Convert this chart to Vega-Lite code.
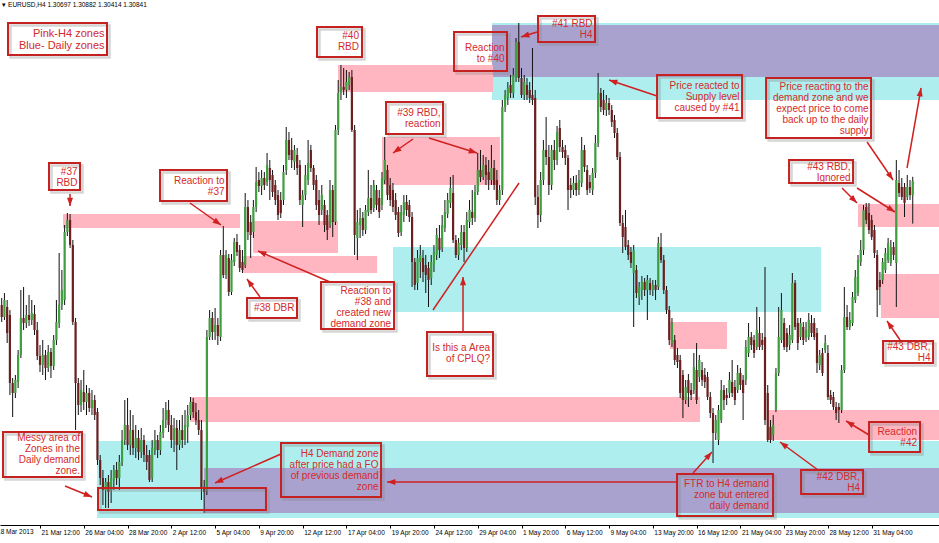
{
"$schema":"https://vega.github.io/schema/vega-lite/v6.json",
"width":939,"height":525,"autosize":"none",
"padding":{"left":0,"top":0,"right":0,"bottom":18},
"background":"white",
"config":{"view":{"stroke":null},"scale":{"continuousPadding":0}},
"resolve":{"axis":{"x":"independent","y":"independent"}},
"datasets":{
"zones":[
{"x1":34.83,"x2":342.6,"y1":1.2824,"y2":1.2747,"tf":"Daily"},
{"x1":73.95,"x2":342.6,"y1":1.2797,"y2":1.2752,"tf":"Both"},
{"x1":179.22,"x2":342.6,"y1":1.3242,"y2":1.3165,"tf":"Daily"},
{"x1":179.22,"x2":342.6,"y1":1.3240,"y2":1.3188,"tf":"Both"},
{"x1":143.03,"x2":299.5,"y1":1.3018,"y2":1.2953,"tf":"Daily"},
{"x1":22.41,"x2":87.11,"y1":1.3051,"y2":1.3037,"tf":"H4"},
{"x1":91.86,"x2":122.93,"y1":1.3044,"y2":1.3012,"tf":"H4"},
{"x1":88.2,"x2":137.2,"y1":1.3009,"y2":1.2992,"tf":"H4"},
{"x1":122.93,"x2":179.59,"y1":1.3200,"y2":1.3173,"tf":"H4"},
{"x1":139.0,"x2":182.1,"y1":1.3128,"y2":1.3080,"tf":"H4"},
{"x1":244.3,"x2":265.1,"y1":1.2943,"y2":1.2916,"tf":"H4"},
{"x1":68.83,"x2":255.25,"y1":1.2868,"y2":1.2843,"tf":"H4"},
{"x1":280.11,"x2":342.6,"y1":1.2855,"y2":1.2825,"tf":"H4"},
{"x1":313.0,"x2":342.6,"y1":1.3061,"y2":1.3038,"tf":"H4"},
{"x1":321.4,"x2":342.6,"y1":1.2991,"y2":1.2947,"tf":"H4"}
],
"candles":[
{"k":0,"o":1.2960,"h":1.2967,"l":1.2943,"c":1.2948},
{"k":1,"o":1.2948,"h":1.2972,"l":1.2945,"c":1.2965},
{"k":2,"o":1.2958,"h":1.2965,"l":1.2922,"c":1.2932},
{"k":3,"o":1.2950,"h":1.2955,"l":1.2870,"c":1.2882},
{"k":4,"o":1.2882,"h":1.2887,"l":1.2848,"c":1.2872},
{"k":5,"o":1.2872,"h":1.2890,"l":1.2867,"c":1.2885},
{"k":6,"o":1.2883,"h":1.2915,"l":1.2877,"c":1.2910},
{"k":7,"o":1.2910,"h":1.2975,"l":1.2907,"c":1.2947},
{"k":8,"o":1.2947,"h":1.2978,"l":1.2935,"c":1.2942},
{"k":9,"o":1.2942,"h":1.2960,"l":1.2937,"c":1.2950},
{"k":10,"o":1.2950,"h":1.2970,"l":1.2939,"c":1.2945},
{"k":11,"o":1.2945,"h":1.2965,"l":1.2940,"c":1.2952},
{"k":12,"o":1.2951,"h":1.2960,"l":1.2930,"c":1.2935},
{"k":13,"o":1.2935,"h":1.2943,"l":1.2905,"c":1.2909},
{"k":14,"o":1.2909,"h":1.2920,"l":1.2893,"c":1.2900},
{"k":15,"o":1.2900,"h":1.2925,"l":1.2890,"c":1.2910},
{"k":16,"o":1.2910,"h":1.2915,"l":1.2885,"c":1.2897},
{"k":17,"o":1.2897,"h":1.2920,"l":1.2893,"c":1.2913},
{"k":18,"o":1.2913,"h":1.2917,"l":1.2887,"c":1.2899},
{"k":19,"o":1.2899,"h":1.2930,"l":1.2895,"c":1.2925},
{"k":20,"o":1.2925,"h":1.2965,"l":1.2920,"c":1.2943},
{"k":21,"o":1.2942,"h":1.3012,"l":1.2937,"c":1.2960},
{"k":22,"o":1.2960,"h":1.2995,"l":1.2955,"c":1.2975},
{"k":23,"o":1.2965,"h":1.3040,"l":1.2960,"c":1.3033},
{"k":24,"o":1.3033,"h":1.3052,"l":1.3029,"c":1.3045},
{"k":25,"o":1.3045,"h":1.3051,"l":1.3017,"c":1.3020},
{"k":26,"o":1.3020,"h":1.3025,"l":1.2940,"c":1.2943},
{"k":27,"o":1.2943,"h":1.2947,"l":1.2835,"c":1.2882},
{"k":28,"o":1.2882,"h":1.2887,"l":1.2850,"c":1.2860},
{"k":29,"o":1.2860,"h":1.2885,"l":1.2853,"c":1.2875},
{"k":30,"o":1.2873,"h":1.2895,"l":1.2855,"c":1.2863},
{"k":31,"o":1.2863,"h":1.2880,"l":1.2850,"c":1.2872},
{"k":32,"o":1.2872,"h":1.2877,"l":1.2853,"c":1.2857},
{"k":33,"o":1.2857,"h":1.2875,"l":1.2850,"c":1.2865},
{"k":34,"o":1.2865,"h":1.2870,"l":1.2845,"c":1.2850},
{"k":35,"o":1.2853,"h":1.2857,"l":1.2800,"c":1.2805},
{"k":36,"o":1.2805,"h":1.2810,"l":1.2780,"c":1.2787},
{"k":37,"o":1.2787,"h":1.2795,"l":1.2760,"c":1.2775},
{"k":38,"o":1.2775,"h":1.2787,"l":1.2757,"c":1.2783},
{"k":39,"o":1.2783,"h":1.2790,"l":1.2757,"c":1.2773},
{"k":40,"o":1.2775,"h":1.2795,"l":1.2762,"c":1.2787},
{"k":41,"o":1.2785,"h":1.2800,"l":1.2775,"c":1.2795},
{"k":42,"o":1.2795,"h":1.2803,"l":1.2780,"c":1.2787},
{"k":43,"o":1.2787,"h":1.2810,"l":1.2775,"c":1.2803},
{"k":44,"o":1.2803,"h":1.2835,"l":1.2799,"c":1.2825},
{"k":45,"o":1.2825,"h":1.2865,"l":1.2820,"c":1.2840},
{"k":46,"o":1.2840,"h":1.2867,"l":1.2815,"c":1.2820},
{"k":47,"o":1.2820,"h":1.2855,"l":1.2810,"c":1.2835},
{"k":48,"o":1.2835,"h":1.2850,"l":1.2810,"c":1.2817},
{"k":49,"o":1.2817,"h":1.2840,"l":1.2807,"c":1.2827},
{"k":50,"o":1.2827,"h":1.2835,"l":1.2805,"c":1.2813},
{"k":51,"o":1.2813,"h":1.2837,"l":1.2807,"c":1.2825},
{"k":52,"o":1.2825,"h":1.2830,"l":1.2803,"c":1.2810},
{"k":53,"o":1.2810,"h":1.2820,"l":1.2795,"c":1.2803},
{"k":54,"o":1.2810,"h":1.2815,"l":1.2783,"c":1.2785},
{"k":55,"o":1.2787,"h":1.2825,"l":1.2783,"c":1.2817},
{"k":56,"o":1.2815,"h":1.2835,"l":1.2810,"c":1.2825},
{"k":57,"o":1.2825,"h":1.2830,"l":1.2807,"c":1.2815},
{"k":58,"o":1.2815,"h":1.2840,"l":1.2810,"c":1.2833},
{"k":59,"o":1.2832,"h":1.2857,"l":1.2827,"c":1.2845},
{"k":60,"o":1.2845,"h":1.2863,"l":1.2837,"c":1.2855},
{"k":61,"o":1.2855,"h":1.2865,"l":1.2833,"c":1.2840},
{"k":62,"o":1.2840,"h":1.2850,"l":1.2817,"c":1.2825},
{"k":63,"o":1.2825,"h":1.2847,"l":1.2813,"c":1.2837},
{"k":64,"o":1.2837,"h":1.2845,"l":1.2795,"c":1.2820},
{"k":65,"o":1.2820,"h":1.2845,"l":1.2815,"c":1.2835},
{"k":66,"o":1.2835,"h":1.2850,"l":1.2817,"c":1.2825},
{"k":67,"o":1.2825,"h":1.2855,"l":1.2820,"c":1.2840},
{"k":68,"o":1.2838,"h":1.2860,"l":1.2822,"c":1.2850},
{"k":69,"o":1.2850,"h":1.2868,"l":1.2845,"c":1.2863},
{"k":70,"o":1.2863,"h":1.2867,"l":1.2847,"c":1.2853},
{"k":71,"o":1.2853,"h":1.2862,"l":1.2840,"c":1.2845},
{"k":72,"o":1.2845,"h":1.2855,"l":1.2830,"c":1.2835},
{"k":73,"o":1.2835,"h":1.2845,"l":1.2765,"c":1.2777},
{"k":74,"o":1.2777,"h":1.2785,"l":1.2752,"c":1.2773},
{"k":75,"o":1.2775,"h":1.2935,"l":1.2770,"c":1.2928},
{"k":76,"o":1.2928,"h":1.2955,"l":1.2925,"c":1.2947},
{"k":77,"o":1.2947,"h":1.2953,"l":1.2925,"c":1.2933},
{"k":78,"o":1.2933,"h":1.2957,"l":1.2925,"c":1.2940},
{"k":79,"o":1.2940,"h":1.2947,"l":1.2920,"c":1.2929},
{"k":80,"o":1.2928,"h":1.3015,"l":1.2924,"c":1.3010},
{"k":81,"o":1.3010,"h":1.3039,"l":1.2987,"c":1.2990},
{"k":82,"o":1.2990,"h":1.3015,"l":1.2986,"c":1.3010},
{"k":83,"o":1.3007,"h":1.3011,"l":1.2969,"c":1.2973},
{"k":84,"o":1.2973,"h":1.3011,"l":1.2970,"c":1.3005},
{"k":85,"o":1.3003,"h":1.3027,"l":1.2999,"c":1.3023},
{"k":86,"o":1.3023,"h":1.3031,"l":1.3009,"c":1.3013},
{"k":87,"o":1.3015,"h":1.3020,"l":1.2993,"c":1.2997},
{"k":88,"o":1.3003,"h":1.3015,"l":1.2992,"c":1.2995},
{"k":89,"o":1.3000,"h":1.3072,"l":1.2997,"c":1.3058},
{"k":90,"o":1.3058,"h":1.3065,"l":1.3025,"c":1.3033},
{"k":91,"o":1.3043,"h":1.3050,"l":1.3007,"c":1.3030},
{"k":92,"o":1.3033,"h":1.3065,"l":1.3027,"c":1.3058},
{"k":93,"o":1.3058,"h":1.3098,"l":1.3053,"c":1.3083},
{"k":94,"o":1.3085,"h":1.3093,"l":1.3073,"c":1.3079},
{"k":95,"o":1.3079,"h":1.3095,"l":1.3070,"c":1.3087},
{"k":96,"o":1.3087,"h":1.3093,"l":1.3075,"c":1.3080},
{"k":97,"o":1.3083,"h":1.3112,"l":1.3079,"c":1.3100},
{"k":98,"o":1.3097,"h":1.3105,"l":1.3065,"c":1.3085},
{"k":99,"o":1.3090,"h":1.3095,"l":1.3068,"c":1.3073},
{"k":100,"o":1.3080,"h":1.3085,"l":1.3060,"c":1.3065},
{"k":101,"o":1.3070,"h":1.3075,"l":1.3045,"c":1.3050},
{"k":102,"o":1.3065,"h":1.3073,"l":1.3047,"c":1.3052},
{"k":103,"o":1.3065,"h":1.3100,"l":1.3060,"c":1.3093},
{"k":104,"o":1.3095,"h":1.3138,"l":1.3090,"c":1.3125},
{"k":105,"o":1.3125,"h":1.3133,"l":1.3105,"c":1.3110},
{"k":106,"o":1.3115,"h":1.3127,"l":1.3097,"c":1.3105},
{"k":107,"o":1.3103,"h":1.3120,"l":1.3095,"c":1.3115},
{"k":108,"o":1.3110,"h":1.3117,"l":1.3090,"c":1.3097},
{"k":109,"o":1.3100,"h":1.3105,"l":1.3060,"c":1.3065},
{"k":110,"o":1.3060,"h":1.3075,"l":1.3038,"c":1.3070},
{"k":111,"o":1.3070,"h":1.3100,"l":1.3065,"c":1.3090},
{"k":112,"o":1.3085,"h":1.3125,"l":1.3080,"c":1.3102},
{"k":113,"o":1.3115,"h":1.3120,"l":1.3093,"c":1.3097},
{"k":114,"o":1.3097,"h":1.3100,"l":1.3075,"c":1.3080},
{"k":115,"o":1.3085,"h":1.3090,"l":1.3055,"c":1.3060},
{"k":116,"o":1.3065,"h":1.3075,"l":1.3040,"c":1.3050},
{"k":117,"o":1.3055,"h":1.3080,"l":1.3050,"c":1.3070},
{"k":118,"o":1.3060,"h":1.3065,"l":1.3033,"c":1.3040},
{"k":119,"o":1.3050,"h":1.3055,"l":1.3025,"c":1.3035},
{"k":120,"o":1.3040,"h":1.3085,"l":1.3037,"c":1.3075},
{"k":121,"o":1.3075,"h":1.3080,"l":1.3028,"c":1.3043},
{"k":122,"o":1.3043,"h":1.3140,"l":1.3040,"c":1.3135},
{"k":123,"o":1.3135,"h":1.3185,"l":1.3130,"c":1.3172},
{"k":124,"o":1.3172,"h":1.3200,"l":1.3165,"c":1.3178},
{"k":125,"o":1.3178,"h":1.3197,"l":1.3170,"c":1.3175},
{"k":126,"o":1.3175,"h":1.3195,"l":1.3167,"c":1.3183},
{"k":127,"o":1.3180,"h":1.3193,"l":1.3175,"c":1.3188},
{"k":128,"o":1.3188,"h":1.3195,"l":1.3133,"c":1.3135},
{"k":129,"o":1.3135,"h":1.3140,"l":1.3010,"c":1.3030},
{"k":130,"o":1.3027,"h":1.3055,"l":1.3005,"c":1.3043},
{"k":131,"o":1.3040,"h":1.3057,"l":1.3027,"c":1.3047},
{"k":132,"o":1.3047,"h":1.3053,"l":1.3029,"c":1.3035},
{"k":133,"o":1.3035,"h":1.3060,"l":1.3031,"c":1.3055},
{"k":134,"o":1.3053,"h":1.3095,"l":1.3049,"c":1.3067},
{"k":135,"o":1.3067,"h":1.3080,"l":1.3051,"c":1.3055},
{"k":136,"o":1.3057,"h":1.3085,"l":1.3053,"c":1.3080},
{"k":137,"o":1.3075,"h":1.3080,"l":1.3055,"c":1.3060},
{"k":138,"o":1.3067,"h":1.3075,"l":1.3047,"c":1.3053},
{"k":139,"o":1.3060,"h":1.3093,"l":1.3055,"c":1.3087},
{"k":140,"o":1.3085,"h":1.3128,"l":1.3081,"c":1.3105},
{"k":141,"o":1.3095,"h":1.3100,"l":1.3065,"c":1.3070},
{"k":142,"o":1.3080,"h":1.3087,"l":1.3059,"c":1.3065},
{"k":143,"o":1.3075,"h":1.3082,"l":1.3053,"c":1.3058},
{"k":144,"o":1.3065,"h":1.3072,"l":1.3045,"c":1.3050},
{"k":145,"o":1.3053,"h":1.3058,"l":1.3028,"c":1.3032},
{"k":146,"o":1.3033,"h":1.3060,"l":1.3029,"c":1.3053},
{"k":147,"o":1.3050,"h":1.3070,"l":1.3043,"c":1.3063},
{"k":148,"o":1.3063,"h":1.3070,"l":1.3049,"c":1.3055},
{"k":149,"o":1.3060,"h":1.3065,"l":1.3043,"c":1.3048},
{"k":150,"o":1.3048,"h":1.3053,"l":1.2978,"c":1.3003},
{"k":151,"o":1.3003,"h":1.3007,"l":1.2975,"c":1.2980},
{"k":152,"o":1.2982,"h":1.3015,"l":1.2975,"c":1.3007},
{"k":153,"o":1.3003,"h":1.3020,"l":1.2987,"c":1.3010},
{"k":154,"o":1.3007,"h":1.3015,"l":1.2983,"c":1.2993},
{"k":155,"o":1.3000,"h":1.3010,"l":1.2972,"c":1.2990},
{"k":156,"o":1.2997,"h":1.3003,"l":1.2958,"c":1.2985},
{"k":157,"o":1.2987,"h":1.3010,"l":1.2980,"c":1.3003},
{"k":158,"o":1.3000,"h":1.3020,"l":1.2993,"c":1.3013},
{"k":159,"o":1.3010,"h":1.3037,"l":1.3005,"c":1.3030},
{"k":160,"o":1.3027,"h":1.3040,"l":1.3007,"c":1.3015},
{"k":161,"o":1.3017,"h":1.3050,"l":1.3013,"c":1.3040},
{"k":162,"o":1.3037,"h":1.3065,"l":1.3033,"c":1.3053},
{"k":163,"o":1.3051,"h":1.3072,"l":1.3047,"c":1.3065},
{"k":164,"o":1.3062,"h":1.3088,"l":1.3057,"c":1.3077},
{"k":165,"o":1.3072,"h":1.3090,"l":1.3022,"c":1.3025},
{"k":166,"o":1.3025,"h":1.3030,"l":1.3007,"c":1.3010},
{"k":167,"o":1.3010,"h":1.3027,"l":1.3005,"c":1.3022},
{"k":168,"o":1.3020,"h":1.3040,"l":1.3015,"c":1.3033},
{"k":169,"o":1.3033,"h":1.3040,"l":1.3003,"c":1.3017},
{"k":170,"o":1.3017,"h":1.3053,"l":1.3013,"c":1.3045},
{"k":171,"o":1.3043,"h":1.3065,"l":1.3037,"c":1.3055},
{"k":172,"o":1.3053,"h":1.3075,"l":1.3040,"c":1.3047},
{"k":173,"o":1.3047,"h":1.3080,"l":1.3043,"c":1.3073},
{"k":174,"o":1.3073,"h":1.3112,"l":1.3070,"c":1.3095},
{"k":175,"o":1.3095,"h":1.3115,"l":1.3083,"c":1.3088},
{"k":176,"o":1.3088,"h":1.3110,"l":1.3085,"c":1.3100},
{"k":177,"o":1.3100,"h":1.3108,"l":1.3080,"c":1.3090},
{"k":178,"o":1.3093,"h":1.3105,"l":1.3075,"c":1.3085},
{"k":179,"o":1.3085,"h":1.3120,"l":1.3080,"c":1.3097},
{"k":180,"o":1.3097,"h":1.3105,"l":1.3075,"c":1.3080},
{"k":181,"o":1.3085,"h":1.3095,"l":1.3060,"c":1.3065},
{"k":182,"o":1.3065,"h":1.3080,"l":1.3060,"c":1.3075},
{"k":183,"o":1.3075,"h":1.3165,"l":1.3070,"c":1.3158},
{"k":184,"o":1.3158,"h":1.3175,"l":1.3153,"c":1.3170},
{"k":185,"o":1.3167,"h":1.3183,"l":1.3160,"c":1.3177},
{"k":186,"o":1.3180,"h":1.3190,"l":1.3167,"c":1.3172},
{"k":187,"o":1.3172,"h":1.3197,"l":1.3167,"c":1.3190},
{"k":188,"o":1.3187,"h":1.3227,"l":1.3183,"c":1.3223},
{"k":189,"o":1.3223,"h":1.3242,"l":1.3183,"c":1.3187},
{"k":190,"o":1.3187,"h":1.3197,"l":1.3167,"c":1.3170},
{"k":191,"o":1.3170,"h":1.3190,"l":1.3165,"c":1.3183},
{"k":192,"o":1.3180,"h":1.3187,"l":1.3165,"c":1.3170},
{"k":193,"o":1.3175,"h":1.3183,"l":1.3162,"c":1.3167},
{"k":194,"o":1.3170,"h":1.3217,"l":1.3160,"c":1.3165},
{"k":195,"o":1.3167,"h":1.3175,"l":1.3060,"c":1.3068},
{"k":196,"o":1.3068,"h":1.3080,"l":1.3037,"c":1.3050},
{"k":197,"o":1.3050,"h":1.3093,"l":1.3043,"c":1.3085},
{"k":198,"o":1.3085,"h":1.3125,"l":1.3080,"c":1.3115},
{"k":199,"o":1.3115,"h":1.3148,"l":1.3100,"c":1.3108},
{"k":200,"o":1.3108,"h":1.3120,"l":1.3070,"c":1.3080},
{"k":201,"o":1.3080,"h":1.3120,"l":1.3075,"c":1.3115},
{"k":202,"o":1.3115,"h":1.3125,"l":1.3095,"c":1.3105},
{"k":203,"o":1.3105,"h":1.3139,"l":1.3100,"c":1.3133},
{"k":204,"o":1.3137,"h":1.3145,"l":1.3113,"c":1.3118},
{"k":205,"o":1.3118,"h":1.3125,"l":1.3107,"c":1.3113},
{"k":206,"o":1.3115,"h":1.3120,"l":1.3100,"c":1.3107},
{"k":207,"o":1.3107,"h":1.3110,"l":1.3055,"c":1.3075},
{"k":208,"o":1.3080,"h":1.3087,"l":1.3067,"c":1.3075},
{"k":209,"o":1.3075,"h":1.3089,"l":1.3070,"c":1.3082},
{"k":210,"o":1.3082,"h":1.3090,"l":1.3069,"c":1.3075},
{"k":211,"o":1.3075,"h":1.3095,"l":1.3070,"c":1.3085},
{"k":212,"o":1.3082,"h":1.3128,"l":1.3078,"c":1.3115},
{"k":213,"o":1.3115,"h":1.3120,"l":1.3093,"c":1.3098},
{"k":214,"o":1.3095,"h":1.3100,"l":1.3070,"c":1.3075},
{"k":215,"o":1.3083,"h":1.3090,"l":1.3072,"c":1.3077},
{"k":216,"o":1.3075,"h":1.3097,"l":1.3070,"c":1.3092},
{"k":217,"o":1.3092,"h":1.3130,"l":1.3087,"c":1.3122},
{"k":218,"o":1.3122,"h":1.3192,"l":1.3118,"c":1.3172},
{"k":219,"o":1.3172,"h":1.3177,"l":1.3153,"c":1.3158},
{"k":220,"o":1.3165,"h":1.3175,"l":1.3150,"c":1.3155},
{"k":221,"o":1.3155,"h":1.3170,"l":1.3149,"c":1.3162},
{"k":222,"o":1.3162,"h":1.3167,"l":1.3150,"c":1.3155},
{"k":223,"o":1.3155,"h":1.3160,"l":1.3138,"c":1.3143},
{"k":224,"o":1.3145,"h":1.3150,"l":1.3127,"c":1.3132},
{"k":225,"o":1.3132,"h":1.3137,"l":1.3105,"c":1.3108},
{"k":226,"o":1.3108,"h":1.3113,"l":1.3039,"c":1.3042},
{"k":227,"o":1.3042,"h":1.3050,"l":1.3012,"c":1.3028},
{"k":228,"o":1.3038,"h":1.3055,"l":1.3015,"c":1.3018},
{"k":229,"o":1.3020,"h":1.3025,"l":1.3005,"c":1.3010},
{"k":230,"o":1.3013,"h":1.3018,"l":1.2997,"c":1.3002},
{"k":231,"o":1.2992,"h":1.3020,"l":1.2938,"c":1.3015},
{"k":232,"o":1.2995,"h":1.3000,"l":1.2967,"c":1.2972},
{"k":233,"o":1.2968,"h":1.2983,"l":1.2960,"c":1.2978},
{"k":234,"o":1.2975,"h":1.2989,"l":1.2965,"c":1.2983},
{"k":235,"o":1.2983,"h":1.2987,"l":1.2969,"c":1.2975},
{"k":236,"o":1.2975,"h":1.2990,"l":1.2945,"c":1.2985},
{"k":237,"o":1.2982,"h":1.2987,"l":1.2970,"c":1.2975},
{"k":238,"o":1.2975,"h":1.2985,"l":1.2969,"c":1.2980},
{"k":239,"o":1.2980,"h":1.2985,"l":1.2965,"c":1.2975},
{"k":240,"o":1.2978,"h":1.3028,"l":1.2975,"c":1.3022},
{"k":241,"o":1.3018,"h":1.3032,"l":1.3002,"c":1.3005},
{"k":242,"o":1.3005,"h":1.3010,"l":1.2971,"c":1.2975},
{"k":243,"o":1.2975,"h":1.2979,"l":1.2951,"c":1.2955},
{"k":244,"o":1.2955,"h":1.2959,"l":1.2920,"c":1.2925},
{"k":245,"o":1.2922,"h":1.2947,"l":1.2918,"c":1.2942},
{"k":246,"o":1.2925,"h":1.2930,"l":1.2900,"c":1.2905},
{"k":247,"o":1.2910,"h":1.2917,"l":1.2897,"c":1.2903},
{"k":248,"o":1.2905,"h":1.2910,"l":1.2867,"c":1.2872},
{"k":249,"o":1.2890,"h":1.2895,"l":1.2847,"c":1.2865},
{"k":250,"o":1.2865,"h":1.2885,"l":1.2861,"c":1.2878},
{"k":251,"o":1.2885,"h":1.2891,"l":1.2858,"c":1.2872},
{"k":252,"o":1.2875,"h":1.2882,"l":1.2865,"c":1.2870},
{"k":253,"o":1.2875,"h":1.2912,"l":1.2871,"c":1.2898},
{"k":254,"o":1.2895,"h":1.2922,"l":1.2861,"c":1.2865},
{"k":255,"o":1.2888,"h":1.2910,"l":1.2883,"c":1.2905},
{"k":256,"o":1.2895,"h":1.2903,"l":1.2879,"c":1.2885},
{"k":257,"o":1.2890,"h":1.2897,"l":1.2877,"c":1.2883},
{"k":258,"o":1.2888,"h":1.2893,"l":1.2865,"c":1.2868},
{"k":259,"o":1.2868,"h":1.2873,"l":1.2847,"c":1.2852},
{"k":260,"o":1.2852,"h":1.2857,"l":1.2802,"c":1.2832},
{"k":261,"o":1.2832,"h":1.2850,"l":1.2825,"c":1.2845},
{"k":262,"o":1.2825,"h":1.2860,"l":1.2820,"c":1.2855},
{"k":263,"o":1.2845,"h":1.2885,"l":1.2842,"c":1.2875},
{"k":264,"o":1.2875,"h":1.2880,"l":1.2855,"c":1.2865},
{"k":265,"o":1.2870,"h":1.2877,"l":1.2860,"c":1.2867},
{"k":266,"o":1.2872,"h":1.2893,"l":1.2867,"c":1.2885},
{"k":267,"o":1.2883,"h":1.2905,"l":1.2868,"c":1.2872},
{"k":268,"o":1.2878,"h":1.2885,"l":1.2860,"c":1.2865},
{"k":269,"o":1.2875,"h":1.2900,"l":1.2872,"c":1.2892},
{"k":270,"o":1.2892,"h":1.2897,"l":1.2875,"c":1.2880},
{"k":271,"o":1.2885,"h":1.2890,"l":1.2845,"c":1.2872},
{"k":272,"o":1.2885,"h":1.2925,"l":1.2880,"c":1.2918},
{"k":273,"o":1.2912,"h":1.2942,"l":1.2908,"c":1.2928},
{"k":274,"o":1.2928,"h":1.2933,"l":1.2915,"c":1.2920},
{"k":275,"o":1.2925,"h":1.2930,"l":1.2907,"c":1.2912},
{"k":276,"o":1.2918,"h":1.2958,"l":1.2915,"c":1.2935},
{"k":277,"o":1.2932,"h":1.2948,"l":1.2915,"c":1.2918},
{"k":278,"o":1.2925,"h":1.2932,"l":1.2915,"c":1.2920},
{"k":279,"o":1.2928,"h":1.2998,"l":1.2840,"c":1.2845},
{"k":280,"o":1.2872,"h":1.2880,"l":1.2823,"c":1.2825},
{"k":281,"o":1.2838,"h":1.2845,"l":1.2822,"c":1.2825},
{"k":282,"o":1.2830,"h":1.2850,"l":1.2824,"c":1.2840},
{"k":283,"o":1.2855,"h":1.2897,"l":1.2853,"c":1.2892},
{"k":284,"o":1.2892,"h":1.2958,"l":1.2889,"c":1.2928},
{"k":285,"o":1.2925,"h":1.2972,"l":1.2922,"c":1.2955},
{"k":286,"o":1.2942,"h":1.2947,"l":1.2915,"c":1.2918},
{"k":287,"o":1.2932,"h":1.2937,"l":1.2913,"c":1.2918},
{"k":288,"o":1.2920,"h":1.2940,"l":1.2915,"c":1.2930},
{"k":289,"o":1.2925,"h":1.2992,"l":1.2922,"c":1.2982},
{"k":290,"o":1.2982,"h":1.2985,"l":1.2935,"c":1.2938},
{"k":291,"o":1.2942,"h":1.2947,"l":1.2915,"c":1.2922},
{"k":292,"o":1.2928,"h":1.2947,"l":1.2925,"c":1.2942},
{"k":293,"o":1.2938,"h":1.2943,"l":1.2920,"c":1.2925},
{"k":294,"o":1.2927,"h":1.2943,"l":1.2923,"c":1.2935},
{"k":295,"o":1.2928,"h":1.2952,"l":1.2925,"c":1.2945},
{"k":296,"o":1.2942,"h":1.2950,"l":1.2928,"c":1.2932},
{"k":297,"o":1.2942,"h":1.2947,"l":1.2925,"c":1.2928},
{"k":298,"o":1.2932,"h":1.2937,"l":1.2892,"c":1.2902},
{"k":299,"o":1.2900,"h":1.2915,"l":1.2895,"c":1.2910},
{"k":300,"o":1.2912,"h":1.2917,"l":1.2889,"c":1.2892},
{"k":301,"o":1.2915,"h":1.2930,"l":1.2912,"c":1.2922},
{"k":302,"o":1.2912,"h":1.2920,"l":1.2865,"c":1.2868},
{"k":303,"o":1.2870,"h":1.2875,"l":1.2861,"c":1.2865},
{"k":304,"o":1.2868,"h":1.2873,"l":1.2855,"c":1.2858},
{"k":305,"o":1.2858,"h":1.2863,"l":1.2845,"c":1.2852},
{"k":306,"o":1.2858,"h":1.2862,"l":1.2842,"c":1.2855},
{"k":307,"o":1.2855,"h":1.2900,"l":1.2852,"c":1.2895},
{"k":308,"o":1.2895,"h":1.2978,"l":1.2892,"c":1.2948},
{"k":309,"o":1.2948,"h":1.2960,"l":1.2935,"c":1.2938},
{"k":310,"o":1.2938,"h":1.2953,"l":1.2935,"c":1.2945},
{"k":311,"o":1.2942,"h":1.2973,"l":1.2939,"c":1.2968},
{"k":312,"o":1.2965,"h":1.2995,"l":1.2962,"c":1.2988},
{"k":313,"o":1.2972,"h":1.3010,"l":1.2969,"c":1.3005},
{"k":314,"o":1.3003,"h":1.3025,"l":1.2999,"c":1.3015},
{"k":315,"o":1.3015,"h":1.3060,"l":1.3010,"c":1.3055},
{"k":316,"o":1.3058,"h":1.3062,"l":1.3041,"c":1.3045},
{"k":317,"o":1.3052,"h":1.3062,"l":1.3031,"c":1.3035},
{"k":318,"o":1.3045,"h":1.3050,"l":1.3025,"c":1.3028},
{"k":319,"o":1.3035,"h":1.3040,"l":1.3007,"c":1.3012},
{"k":320,"o":1.3010,"h":1.3015,"l":1.2948,"c":1.2975},
{"k":321,"o":1.2985,"h":1.2993,"l":1.2960,"c":1.2978},
{"k":322,"o":1.2985,"h":1.3007,"l":1.2981,"c":1.3003},
{"k":323,"o":1.2995,"h":1.3017,"l":1.2992,"c":1.3012},
{"k":324,"o":1.3005,"h":1.3027,"l":1.3002,"c":1.3022},
{"k":325,"o":1.3002,"h":1.3025,"l":1.2999,"c":1.3018},
{"k":326,"o":1.3018,"h":1.3023,"l":1.3005,"c":1.3010},
{"k":327,"o":1.3002,"h":1.3105,"l":1.2958,"c":1.3085},
{"k":328,"o":1.3082,"h":1.3095,"l":1.3068,"c":1.3072},
{"k":329,"o":1.3078,"h":1.3087,"l":1.3065,"c":1.3068},
{"k":330,"o":1.3078,"h":1.3082,"l":1.3048,"c":1.3062},
{"k":331,"o":1.3068,"h":1.3090,"l":1.3065,"c":1.3078},
{"k":332,"o":1.3078,"h":1.3085,"l":1.3065,"c":1.3070},
{"k":333,"o":1.30697,"h":1.30882,"l":1.30414,"c":1.30841}
],
"boxes":[
{"grp":"rect","x1":35.2,"x2":96.6,"y1":1.2777,"y2":1.2755},
{"grp":"legend","x1":2.30,"x2":38.49,"y1":1.3242,"y2":1.3210,"tx":37.58,"ty":1.3237,"label":"Pink-H4 zones\nBlue- Daily zones"},
{"grp":"note","x1":17.29,"x2":28.62,"y1":1.3102,"y2":1.3075,"tx":27.71,"ty":1.3098,"label":"#37\nRBD"},
{"grp":"note","x1":57.86,"x2":82.36,"y1":1.3095,"y2":1.3064,"tx":81.44,"ty":1.3089,"label":"Reaction to\n#37"},
{"grp":"note","x1":89.67,"x2":107.94,"y1":1.2967,"y2":1.2947,"tx":107.03,"ty":1.2962,"label":"#38 DBR"},
{"grp":"note","x1":115.25,"x2":131.70,"y1":1.3238,"y2":1.3208,"tx":130.6,"ty":1.3234,"label":"#40\nRBD"},
{"grp":"note","x1":165.33,"x2":184.71,"y1":1.3233,"y2":1.3194,"tx":183.79,"ty":1.3222,"label":"Reaction\nto #40"},
{"grp":"note","x1":196.04,"x2":216.87,"y1":1.3249,"y2":1.3223,"tx":215.96,"ty":1.3246,"label":"#41 RBD\nH4"},
{"grp":"note","x1":140.47,"x2":161.31,"y1":1.3163,"y2":1.3131,"tx":160.40,"ty":1.3157,"label":"#39 RBD,\nreaction"},
{"grp":"note","x1":239.54,"x2":270.61,"y1":1.3190,"y2":1.3147,"tx":269.7,"ty":1.3184,"label":"Price reacted to\nSupply level\ncaused by #41"},
{"grp":"note","x1":279.39,"x2":317.76,"y1":1.3187,"y2":1.3127,"tx":316.85,"ty":1.3183,"label":"Price reacting to the\ndemand zone and we\nexpect price to come\nback up to  the daily\nsupply"},
{"grp":"note","x1":287.79,"x2":311.18,"y1":1.3105,"y2":1.3082,"tx":310.27,"ty":1.3103,"label":"#43 RBD,\nIgnored"},
{"grp":"note","x1":322.15,"x2":340.43,"y1":1.2924,"y2":1.2902,"tx":339.51,"ty":1.2923,"label":"#43 DBR,\nH4"},
{"grp":"note","x1":116.72,"x2":143.40,"y1":1.2983,"y2":1.2936,"tx":142.30,"ty":1.2979,"label":"Reaction to\n#38 and\ncreated new\ndemand zone"},
{"grp":"note","x1":155.46,"x2":179.59,"y1":1.2933,"y2":1.2889,"tx":178.49,"ty":1.2922,"label":"Is this a Area\nof CPLQ?"},
{"grp":"note","x1":0.48,"x2":29.35,"y1":1.2833,"y2":1.2788,"tx":28.62,"ty":1.2832,"label":"Messy area of\nZones in the\nDaily demand\nzone."},
{"grp":"note","x1":102.09,"x2":138.65,"y1":1.2822,"y2":1.2768,"tx":137.73,"ty":1.2816,"label":"H4 Demand zone\nafter price had a FO\nof previous demand\nzone"},
{"grp":"note","x1":246.85,"x2":281.94,"y1":1.2791,"y2":1.2749,"tx":280.48,"ty":1.2786,"label":"FTR to H4 demand\nzone but entered\ndaily demand"},
{"grp":"note","x1":292.18,"x2":314.84,"y1":1.2795,"y2":1.2771,"tx":313.75,"ty":1.2793,"label":"#42 DBR,\nH4"},
{"grp":"note","x1":317.03,"x2":335.67,"y1":1.2843,"y2":1.2813,"tx":334.58,"ty":1.2838,"label":"Reaction\n#42"}
],
"arrows":[
{"x1":24.97,"y1":1.3071,"x2":24.97,"y2":1.3059,"head":true},
{"x1":68.83,"y1":1.3062,"x2":80.16,"y2":1.3040,"head":true},
{"x1":94.42,"y1":1.2968,"x2":89.67,"y2":1.2986,"head":true},
{"x1":120.0,"y1":1.2983,"x2":93.69,"y2":1.3014,"head":true},
{"x1":195.67,"y1":1.3233,"x2":189.83,"y2":1.3228,"head":true},
{"x1":150.34,"y1":1.3126,"x2":143.03,"y2":1.3112,"head":true},
{"x1":156.19,"y1":1.3127,"x2":173.74,"y2":1.3112,"head":true},
{"x1":239.54,"y1":1.3169,"x2":222.0,"y2":1.3185,"head":true},
{"x1":316.30,"y1":1.3123,"x2":325.80,"y2":1.3085,"head":true},
{"x1":330.92,"y1":1.3097,"x2":336.04,"y2":1.3177,"head":true},
{"x1":307.16,"y1":1.3077,"x2":312.64,"y2":1.3062,"head":true},
{"x1":312.64,"y1":1.3077,"x2":326.53,"y2":1.3053,"head":true},
{"x1":328.36,"y1":1.2925,"x2":323.60,"y2":1.2944,"head":true},
{"x1":168.62,"y1":1.2933,"x2":168.62,"y2":1.2988,"head":true},
{"x1":157.65,"y1":1.2955,"x2":189.09,"y2":1.3082,"head":false},
{"x1":23.14,"y1":1.2779,"x2":33.01,"y2":1.2768,"head":true},
{"x1":102.09,"y1":1.2811,"x2":77.97,"y2":1.2782,"head":true},
{"x1":246.85,"y1":1.2783,"x2":140.84,"y2":1.2783,"head":true},
{"x1":252.7,"y1":1.2792,"x2":259.6,"y2":1.2813,"head":true},
{"x1":298.38,"y1":1.2795,"x2":284.49,"y2":1.2823,"head":true},
{"x1":317.03,"y1":1.2830,"x2":308.63,"y2":1.2844,"head":true}
],
"texts":[
{"k":0.2,"p":1.32632,"label":"▾ EURUSD,H4  1.30697 1.30882 1.30414 1.30841"},
{"k":-1.7,"p":1.2736,"label":"18 Mar 2013"}
]
},
"layer":[
{"data":{"name":"zones"},"mark":{"type":"rect"},
 "encoding":{
  "x":{"field":"x1","type":"quantitative","scale":{"domain":[-0.621,342.6],"nice":false,"zero":false,"padding":0},"axis":null},
  "x2":{"field":"x2"},
  "y":{"field":"y1","type":"quantitative","scale":{"domain":[1.274,1.3265],"nice":false,"zero":false},"axis":null},
  "y2":{"field":"y2"},
  "color":{"field":"tf","type":"nominal","scale":{"domain":["H4","Daily","Both"],"range":["#ffb6c1","#afeeee","#a9a2cf"]},"legend":null}}},
{"data":{"name":"candles"},"mark":{"type":"rule","color":"#111111","strokeWidth":1},
 "encoding":{
  "x":{"field":"k","type":"quantitative","scale":{"domain":[-0.621,342.6],"nice":false,"zero":false,"padding":0},
   "axis":{"orient":"bottom","values":[14,30,46,62,78,94,110,126,142,158,174,190,206,222,238,254,270,286,302,318],
    "labelExpr":"['21 Mar 12:00','26 Mar 04:00','28 Mar 20:00','2 Apr 12:00','5 Apr 04:00','9 Apr 20:00','12 Apr 12:00','17 Apr 04:00','19 Apr 20:00','24 Apr 12:00','29 Apr 04:00','1 May 20:00','6 May 12:00','9 May 04:00','13 May 20:00','16 May 12:00','21 May 04:00','23 May 20:00','28 May 12:00','31 May 04:00'][(datum.value-14)/16]",
    "title":null,"grid":false,"domain":true,"ticks":true,"labels":true,"domainColor":"#000000","domainWidth":1,"tickColor":"#000000","tickSize":3,"tickCount":40,
    "labelAlign":"left","labelBaseline":"top","labelPadding":1,"labelOffset":1,"labelFont":"Liberation Sans","labelFontSize":6.5,"labelColor":"#000000","labelOverlap":false,"labelFlush":false,"labelBound":false}},
  "y":{"field":"l","type":"quantitative","scale":{"domain":[1.274,1.3265],"nice":false,"zero":false},"axis":null},
  "y2":{"field":"h"}}},
{"data":{"name":"candles"},"mark":{"type":"bar","width":2.2},
 "encoding":{
  "x":{"field":"k","type":"quantitative","scale":{"domain":[-0.621,342.6],"nice":false,"zero":false,"padding":0},"axis":null},
  "y":{"field":"o","type":"quantitative","scale":{"domain":[1.274,1.3265],"nice":false,"zero":false},"axis":null},
  "y2":{"field":"c"},
  "color":{"condition":{"test":"datum.c >= datum.o","value":"#3f9f3f"},"value":"#6b1f1f"}}},
{"data":{"name":"boxes"},"mark":{"type":"rect","fill":"transparent","stroke":"#888888","strokeOpacity":0.35,"strokeWidth":2.5,"xOffset":2.5,"yOffset":2.5,"x2Offset":2.5,"y2Offset":2.5},
 "encoding":{
  "x":{"field":"x1","type":"quantitative","scale":{"domain":[-0.621,342.6],"nice":false,"zero":false,"padding":0},"axis":null},
  "x2":{"field":"x2"},
  "y":{"field":"y1","type":"quantitative","scale":{"domain":[1.274,1.3265],"nice":false,"zero":false},"axis":null},
  "y2":{"field":"y2"}}},
{"data":{"name":"boxes"},"mark":{"type":"rect","fill":"transparent","stroke":"#c62121","strokeWidth":2},
 "encoding":{
  "x":{"field":"x1","type":"quantitative","scale":{"domain":[-0.621,342.6],"nice":false,"zero":false,"padding":0},"axis":null},
  "x2":{"field":"x2"},
  "y":{"field":"y1","type":"quantitative","scale":{"domain":[1.274,1.3265],"nice":false,"zero":false},"axis":null},
  "y2":{"field":"y2"}}},
{"data":{"name":"boxes"},"transform":[{"filter":"datum.grp == 'note'"}],
 "mark":{"type":"text","align":"right","baseline":"top","fontSize":10,"lineBreak":"\n","lineHeight":11,"font":"Liberation Sans","color":"#d42a2a"},
 "encoding":{
  "x":{"field":"tx","type":"quantitative","scale":{"domain":[-0.621,342.6],"nice":false,"zero":false,"padding":0},"axis":null},
  "y":{"field":"ty","type":"quantitative","scale":{"domain":[1.274,1.3265],"nice":false,"zero":false},"axis":null},
  "text":{"field":"label"}}},
{"data":{"name":"boxes"},"transform":[{"filter":"datum.grp == 'legend'"}],
 "mark":{"type":"text","align":"right","baseline":"top","fontSize":11,"lineBreak":"\n","lineHeight":12,"font":"Liberation Sans","color":"#d42a2a"},
 "encoding":{
  "x":{"field":"tx","type":"quantitative","scale":{"domain":[-0.621,342.6],"nice":false,"zero":false,"padding":0},"axis":null},
  "y":{"field":"ty","type":"quantitative","scale":{"domain":[1.274,1.3265],"nice":false,"zero":false},"axis":null},
  "text":{"field":"label"}}},
{"data":{"name":"arrows"},"mark":{"type":"rule","color":"#d02020","strokeWidth":1.5},
 "encoding":{
  "x":{"field":"x1","type":"quantitative","scale":{"domain":[-0.621,342.6],"nice":false,"zero":false,"padding":0},"axis":null},
  "x2":{"field":"x2"},
  "y":{"field":"y1","type":"quantitative","scale":{"domain":[1.274,1.3265],"nice":false,"zero":false},"axis":null},
  "y2":{"field":"y2"}}},
{"data":{"name":"arrows"},"transform":[{"filter":"datum.head"},{"calculate":"atan2((datum.x2-datum.x1)*2.7358,(datum.y2-datum.y1)*10000)*180/PI","as":"ang"}],
 "mark":{"type":"point","shape":"M0,0L0.4,1.1L-0.4,1.1Z","filled":true,"color":"#d02020","opacity":1,"size":230},
 "encoding":{
  "x":{"field":"x2","type":"quantitative","scale":{"domain":[-0.621,342.6],"nice":false,"zero":false,"padding":0},"axis":null},
  "y":{"field":"y2","type":"quantitative","scale":{"domain":[1.274,1.3265],"nice":false,"zero":false},"axis":null},
  "angle":{"field":"ang","type":"quantitative","scale":null}}},
{"data":{"name":"texts"},"mark":{"type":"text","align":"left","baseline":"top","fontSize":6.5,"font":"Liberation Sans","color":"#000000"},
 "encoding":{
  "x":{"field":"k","type":"quantitative","scale":{"domain":[-0.621,342.6],"nice":false,"zero":false,"padding":0},"axis":null},
  "y":{"field":"p","type":"quantitative","scale":{"domain":[1.274,1.3265],"nice":false,"zero":false},"axis":null},
  "text":{"field":"label"}}}
]
}
